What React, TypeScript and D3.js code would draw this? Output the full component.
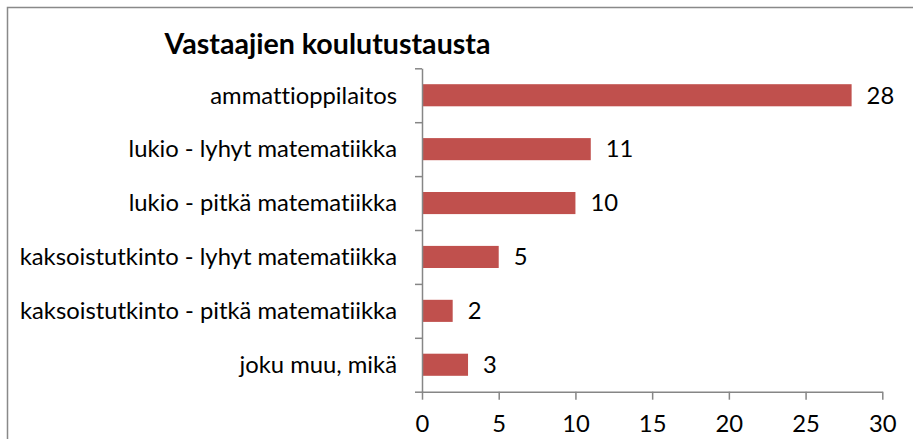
import * as d3 from 'd3';
import { useEffect, useRef } from 'react';

const categories = [
  'ammattioppilaitos',
  'lukio - lyhyt matematiikka',
  'lukio - pitkä matematiikka',
  'kaksoistutkinto - lyhyt matematiikka',
  'kaksoistutkinto - pitkä matematiikka',
  'joku muu, mikä',
];
const values = [28, 11, 10, 5, 2, 3];
const xTicks = [0, 5, 10, 15, 20, 25, 30];
const title = 'Vastaajien koulutustausta';

function App() {
  const svgRef = useRef<SVGSVGElement>(null);

  useEffect(() => {
    if (!svgRef.current) {
      return;
    }
    const svg = d3.select(svgRef.current);
    svg.selectAll('*').remove();

    const width = 913;
    const height = 439;
    const plot = { left: 422, right: 882.3, top: 68.3, bottom: 391.7 };
    const font = 'Lato, "Open Sans", sans-serif';
    const fontSize = '23.8px';
    const axisColor = '#868686';

    // outer chart border (only top/left inside the picture)
    svg
      .append('rect')
      .attr('x', 7.5)
      .attr('y', 7.5)
      .attr('width', width)
      .attr('height', height)
      .attr('fill', '#fff')
      .attr('stroke', '#898989')
      .attr('stroke-width', 1.5);

    const xScale = d3.scaleLinear().domain([0, 30]).range([plot.left, plot.right]);
    const yScale = d3
      .scaleBand<string>()
      .domain(categories)
      .range([plot.top, plot.bottom])
      .paddingInner(0.59)
      .paddingOuter(0.295);

    // title
    svg
      .append('text')
      .attr('x', 327.5)
      .attr('y', 54)
      .attr('text-anchor', 'middle')
      .style('font-family', font)
      .style('font-weight', 'bold')
      .style('font-size', '28.6px')
      .text(title);

    // bars
    svg
      .append('g')
      .selectAll('rect')
      .data(values)
      .join('rect')
      .attr('x', xScale(0))
      .attr('y', (_, i) => yScale(categories[i]) as number)
      .attr('width', (d) => xScale(d) - xScale(0))
      .attr('height', yScale.bandwidth())
      .attr('fill', '#c0504d');

    // value labels
    svg
      .append('g')
      .selectAll('text')
      .data(values)
      .join('text')
      .attr('x', (d) => xScale(d) + 15)
      .attr('y', (_, i) => (yScale(categories[i]) as number) + yScale.bandwidth() / 2)
      .attr('dy', '0.35em')
      .style('font-family', font)
      .style('font-size', fontSize)
      .text((d) => d);

    // y axis
    const yAxis = d3
      .axisLeft(d3.scaleLinear().domain([0, 6]).range([plot.bottom, plot.top]))
      .tickValues(d3.range(7))
      .tickSize(7)
      .tickSizeOuter(0)
      .tickFormat(() => '');
    const gy = svg.append('g').attr('transform', `translate(${plot.left},0)`).call(yAxis);
    gy.selectAll('line, path').attr('stroke', axisColor).attr('stroke-width', 1.5);

    // category labels (no ligatures, like the original)
    svg
      .append('g')
      .selectAll('text')
      .data(categories)
      .join('text')
      .attr('x', plot.left - 25)
      .attr('y', (d) => (yScale(d) as number) + yScale.bandwidth() / 2)
      .attr('dy', '0.35em')
      .attr('text-anchor', 'end')
      .style('font-family', font)
      .style('font-size', fontSize)
      .style('font-variant-ligatures', 'none')
      .text((d) => d);

    // x axis
    const xAxis = d3.axisBottom(xScale).tickValues(xTicks).tickSize(8).tickSizeOuter(0).tickPadding(15);
    const gx = svg.append('g').attr('transform', `translate(0,${plot.bottom})`).call(xAxis);
    gx.selectAll('line, path').attr('stroke', axisColor).attr('stroke-width', 1.5);
    gx.selectAll('text')
      .attr('fill', '#000')
      .style('font-family', font)
      .style('font-size', fontSize);
  }, []);

  return (
    <svg
      ref={svgRef}
      width={913}
      height={439}
      style={{ position: 'absolute', left: 0, top: 0, background: '#fff' }}
    />
  );
}

export default App;
